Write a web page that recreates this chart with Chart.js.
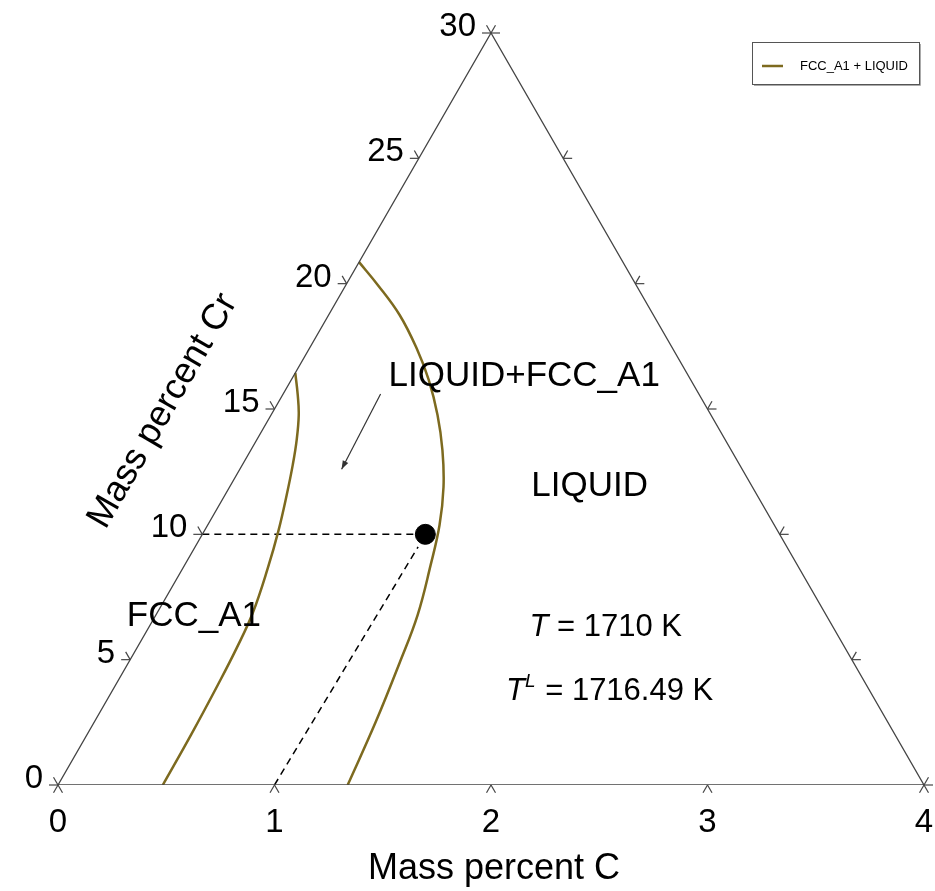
<!DOCTYPE html>
<html>
<head>
<meta charset="utf-8">
<title>Fe-Cr-C isothermal section</title>
<script src="https://cdn.jsdelivr.net/npm/chart.js@4.4.0/dist/chart.umd.min.js"></script>
<style>
  html, body { margin: 0; padding: 0; background: #fff; }
  #wrap { width: 935px; height: 891px; position: relative; }
</style>
</head>
<body>
<div id="wrap"><canvas id="ternary"></canvas></div>
<script>
// axis ranges (mass percent)
const cMax = 4;
const crMax = 30;
const cTicks = [0, 1, 2, 3, 4];
const crTicks = [0, 5, 10, 15, 20, 25, 30];

// FCC_A1 | FCC_A1+LIQUID boundary
const solidusC  = [0, 0.070, 0.128, 0.185, 0.233, 0.285, 0.341, 0.392, 0.442, 0.461, 0.472, 0.481, 0.484];
const solidusCr = [16.44, 15.56, 14.76, 13.76, 12.77, 11.57, 10.17, 8.66, 6.86, 5.47, 3.99, 2.0, 0];

// FCC_A1+LIQUID | LIQUID boundary
const liquidusC  = [0, 0.147, 0.328, 0.494, 0.635, 0.769, 0.885, 0.988, 1.071, 1.136, 1.209, 1.253, 1.300, 1.338];
const liquidusCr = [20.86, 19.95, 18.75, 17.43, 16.16, 14.76, 13.36, 11.89, 10.37, 8.78, 6.78, 4.87, 2.51, 0];

// alloy composition
const alloyC = [1.03];
const alloyCr = [10];

const phaseColor = '#7d6a1f';
const edgeColor = '#444';
const font = '"Liberation Sans", Arial, sans-serif';

// (C, Cr) -> cartesian chart coordinates, Cr runs along the left edge
function toXY(c, cr) {
    return { x: c + cr * (cMax / crMax) / 2, y: cr };
}
function curve(cs, crs) {
    return cs.map((c, i) => toXY(c, crs[i]));
}

// text placed inside the diagram, positions in (C, Cr)
const phaseLabels = [
    { text: 'LIQUID+FCC_A1', c: 0.44, cr: 16.3, align: 'left' },
    { text: 'LIQUID', c: 1.66, cr: 11.93, align: 'center' },
    { text: 'FCC_A1', c: 0.18, cr: 6.72, align: 'center' }
];

const decorations = {
    id: 'decorations',
    afterDraw(chart) {
        const ctx = chart.ctx;
        const xs = chart.scales.x, ys = chart.scales.y;
        const px = (c, cr) => {
            const p = toXY(c, cr);
            return { x: xs.getPixelForValue(p.x), y: ys.getPixelForValue(p.y) };
        };
        const len = 9;
        const cos = Math.cos(Math.PI / 3), sin = Math.sin(Math.PI / 3);

        ctx.save();
        ctx.strokeStyle = edgeColor;
        ctx.lineWidth = 1.2;
        const stroke = (p, dx, dy) => {
            ctx.beginPath();
            ctx.moveTo(p.x, p.y);
            ctx.lineTo(p.x + dx, p.y + dy);
            ctx.stroke();
        };

        ctx.fillStyle = '#000';
        ctx.font = '33px ' + font;

        // bottom edge: C
        cTicks.forEach(t => {
            const p = px(t, 0);
            stroke(p, -len * cos, len * sin);
            stroke(p, len * cos, len * sin);
            ctx.textAlign = 'center';
            ctx.textBaseline = 'middle';
            ctx.fillText(String(t), p.x, p.y + 38);
        });
        // left edge: Cr
        crTicks.forEach(t => {
            const p = px(0, t);
            stroke(p, -len, 0);
            stroke(p, -len * cos, -len * sin);
            ctx.textAlign = 'right';
            ctx.textBaseline = 'middle';
            ctx.fillText(String(t), p.x - 15, p.y - 6);
        });
        // right edge ticks, no labels
        crTicks.forEach(t => {
            const p = px(cMax * (1 - t / crMax), t);
            stroke(p, len, 0);
            stroke(p, len * cos, -len * sin);
        });

        // axis titles
        ctx.textAlign = 'center';
        ctx.textBaseline = 'middle';
        ctx.font = '36px ' + font;
        ctx.fillText('Mass percent C', 494, 869);
        ctx.save();
        ctx.translate(163, 411);
        ctx.rotate(-Math.PI / 3);
        ctx.fillText('Mass percent Cr', 0, 0);
        ctx.restore();

        // phase regions
        ctx.font = '35px ' + font;
        phaseLabels.forEach(l => {
            const p = px(l.c, l.cr);
            ctx.textAlign = l.align;
            ctx.fillText(l.text, p.x, p.y);
        });

        // arrow pointing into the two-phase field
        const a0 = px(0.45, 15.6), a1 = px(0.47, 12.6);
        ctx.strokeStyle = '#333';
        ctx.fillStyle = '#333';
        ctx.lineWidth = 1.2;
        ctx.beginPath();
        ctx.moveTo(a0.x, a0.y);
        ctx.lineTo(a1.x, a1.y);
        ctx.stroke();
        const ang = Math.atan2(a1.y - a0.y, a1.x - a0.x);
        ctx.beginPath();
        ctx.moveTo(a1.x, a1.y);
        ctx.lineTo(a1.x - 9 * Math.cos(ang - 0.35), a1.y - 9 * Math.sin(ang - 0.35));
        ctx.lineTo(a1.x - 9 * Math.cos(ang + 0.35), a1.y - 9 * Math.sin(ang + 0.35));
        ctx.closePath();
        ctx.fill();

        // temperatures
        ctx.fillStyle = '#000';
        ctx.textAlign = 'left';
        const t1 = px(2.11, 6.3);
        const t2 = px(2.30, 3.72);
        const drawT = (p, sup, rest) => {
            ctx.font = 'italic 31px ' + font;
            const w = ctx.measureText('T').width;
            ctx.font = 'italic 19px ' + font;
            const ws = sup ? ctx.measureText(sup).width + 1 : 0;
            ctx.font = '31px ' + font;
            const wr = ctx.measureText(rest).width;
            let x = p.x - (w + ws + wr) / 2;
            ctx.font = 'italic 31px ' + font;
            ctx.fillText('T', x, p.y);
            x += w;
            if (sup) {
                ctx.font = 'italic 19px ' + font;
                ctx.fillText(sup, x, p.y - 10);
                x += ws;
            }
            ctx.font = '31px ' + font;
            ctx.fillText(rest, x, p.y);
        };
        drawT(t1, '', ' = 1710 K');
        drawT(t2, 'L', ' = 1716.49 K');

        // legend box
        ctx.strokeStyle = '#aaa';
        ctx.lineWidth = 1;
        ctx.beginPath();
        ctx.moveTo(754, 85.5);
        ctx.lineTo(920.5, 85.5);
        ctx.lineTo(920.5, 44);
        ctx.stroke();
        ctx.strokeStyle = '#555';
        ctx.strokeRect(752.5, 42.5, 167, 42);
        ctx.strokeStyle = phaseColor;
        ctx.lineWidth = 2.5;
        ctx.beginPath();
        ctx.moveTo(762, 66);
        ctx.lineTo(783, 66);
        ctx.stroke();
        ctx.fillStyle = '#000';
        ctx.font = '13px ' + font;
        ctx.textBaseline = 'middle';
        ctx.fillText('FCC_A1 + LIQUID', 800, 66);
        ctx.restore();
    }
};

const lineSet = (data, color, width, dash) => ({
    data: data,
    showLine: true,
    borderColor: color,
    borderWidth: width,
    borderDash: dash || [],
    pointRadius: 0,
    fill: false,
    tension: 0
});

new Chart(document.getElementById('ternary'), {
    type: 'scatter',
    data: {
        datasets: [
            lineSet([toXY(0, 0), toXY(cMax, 0), toXY(0, crMax), toXY(0, 0)], edgeColor, 1.3),
            Object.assign(lineSet(curve(solidusC, solidusCr), phaseColor, 2.5), { tension: 0.4 }),
            Object.assign(lineSet(curve(liquidusC, liquidusCr), phaseColor, 2.5), { tension: 0.4 }),
            lineSet([toXY(0, alloyCr[0]), toXY(alloyC[0] - 0.05, alloyCr[0])], '#000', 1.5, [7, 5]),
            lineSet([toXY(1, 0), toXY(alloyC[0], alloyCr[0] - 0.5)], '#000', 1.5, [7, 5]),
            {
                data: curve(alloyC, alloyCr),
                pointRadius: 10,
                pointBackgroundColor: '#000',
                pointBorderColor: '#000',
                showLine: false
            }
        ]
    },
    options: {
        responsive: true,
        maintainAspectRatio: false,
        animation: false,
        layout: { padding: { left: 58, right: 10, top: 33, bottom: 106 } },
        scales: {
            x: { type: 'linear', min: 0, max: cMax, display: false },
            y: { type: 'linear', min: 0, max: crMax, display: false }
        },
        plugins: {
            legend: { display: false },
            tooltip: { enabled: false }
        }
    },
    plugins: [decorations]
});
</script>
</body>
</html>
